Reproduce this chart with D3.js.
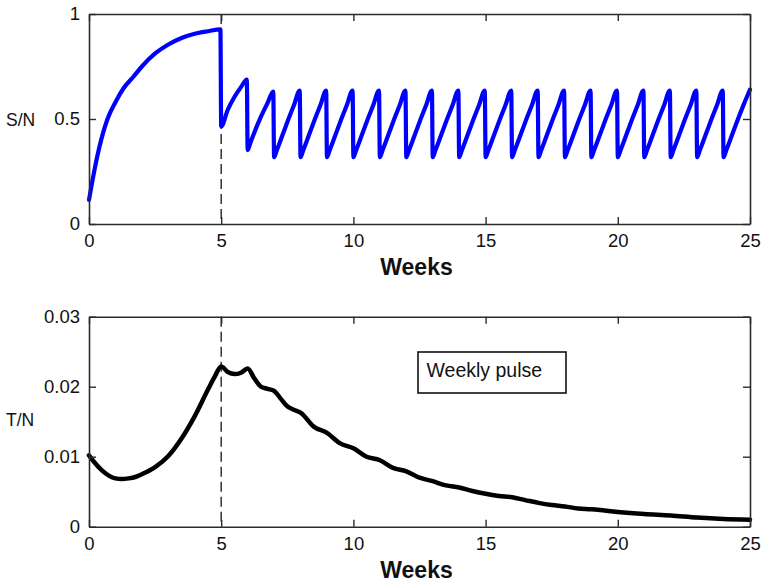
<!DOCTYPE html>
<html>
<head>
<meta charset="utf-8">
<script src="https://cdn.jsdelivr.net/npm/d3@7"></script>
<style>
  html, body { margin: 0; padding: 0; background: #fff; }
  svg { display: block; font-family: "Liberation Sans", Arial, sans-serif; }
</style>
</head>
<body>
<svg id="chart" width="761" height="583"></svg>
<script>
// ---- data ----
const xTicks = [0, 5, 10, 15, 20, 25];
const xTickLabels = ["0", "5", "10", "15", "20", "25"];
const sTicks = [0, 0.5, 1];
const sTickLabels = ["0", "0.5", "1"];
const tTicks = [0, 0.01, 0.02, 0.03];
const tTickLabels = ["0", "0.01", "0.02", "0.03"];
const pulseStart = 5;
const xLabel = "Weeks";
const sLabel = "S/N";
const tLabel = "T/N";
const legendText = "Weekly pulse";

// S/N (top panel)
const sWeeks = [
  0, 0.15, 0.4, 0.7, 1, 1.3, 1.67, 2, 2.5, 3, 3.5, 4, 4.5, 4.97, 5,
  5.25, 5.5, 5.75, 5.97,
  6, 6.1, 6.25, 6.5, 6.75, 6.97,
  7, 7.1, 7.25, 7.5, 7.75, 7.97,
  8, 8.1, 8.25, 8.5, 8.75, 8.97,
  9, 9.1, 9.25, 9.5, 9.75, 9.97,
  10, 10.1, 10.25, 10.5, 10.75, 10.97,
  11, 11.1, 11.25, 11.5, 11.75, 11.97,
  12, 12.1, 12.25, 12.5, 12.75, 12.97,
  13, 13.1, 13.25, 13.5, 13.75, 13.97,
  14, 14.1, 14.25, 14.5, 14.75, 14.97,
  15, 15.1, 15.25, 15.5, 15.75, 15.97,
  16, 16.1, 16.25, 16.5, 16.75, 16.97,
  17, 17.1, 17.25, 17.5, 17.75, 17.97,
  18, 18.1, 18.25, 18.5, 18.75, 18.97,
  19, 19.1, 19.25, 19.5, 19.75, 19.97,
  20, 20.1, 20.25, 20.5, 20.75, 20.97,
  21, 21.1, 21.25, 21.5, 21.75, 21.97,
  22, 22.1, 22.25, 22.5, 22.75, 22.97,
  23, 23.1, 23.25, 23.5, 23.75, 23.97,
  24, 24.1, 24.25, 24.5, 24.75, 25
];
const sValues = [
  0.115, 0.22, 0.37, 0.50, 0.58, 0.645, 0.70, 0.75, 0.812, 0.855, 0.886, 0.906, 0.918, 0.927, 0.465,
  0.545, 0.605, 0.652, 0.688,
  0.352, 0.385, 0.435, 0.51, 0.575, 0.63,   // week 6
  0.318, 0.35, 0.40, 0.485, 0.565, 0.635,   // week 7
  0.318, 0.35, 0.40, 0.485, 0.565, 0.635,   // week 8
  0.318, 0.35, 0.40, 0.485, 0.565, 0.635,   // week 9
  0.318, 0.35, 0.40, 0.485, 0.565, 0.635,   // week 10
  0.318, 0.35, 0.40, 0.485, 0.565, 0.635,   // week 11
  0.318, 0.35, 0.40, 0.485, 0.565, 0.635,   // week 12
  0.318, 0.35, 0.40, 0.485, 0.565, 0.635,   // week 13
  0.318, 0.35, 0.40, 0.485, 0.565, 0.635,   // week 14
  0.318, 0.35, 0.40, 0.485, 0.565, 0.635,   // week 15
  0.318, 0.35, 0.40, 0.485, 0.565, 0.635,   // week 16
  0.318, 0.35, 0.40, 0.485, 0.565, 0.635,   // week 17
  0.318, 0.35, 0.40, 0.485, 0.565, 0.635,   // week 18
  0.318, 0.35, 0.40, 0.485, 0.565, 0.635,   // week 19
  0.318, 0.35, 0.40, 0.485, 0.565, 0.635,   // week 20
  0.318, 0.35, 0.40, 0.485, 0.565, 0.635,   // week 21
  0.318, 0.35, 0.40, 0.485, 0.565, 0.635,   // week 22
  0.318, 0.35, 0.40, 0.485, 0.565, 0.635,   // week 23
  0.318, 0.35, 0.40, 0.485, 0.565, 0.64     // week 24
];

// T/N (bottom panel)
const tWeeks = [
  0, 0.25, 0.5, 0.75, 1, 1.25, 1.5, 1.75, 2, 2.5, 3, 3.5, 4, 4.5, 4.75, 5,
  5.25, 5.5, 5.75, 6, 6.25, 6.5, 6.75, 7, 7.25, 7.5, 7.75, 8, 8.5, 9, 9.5, 10,
  10.5, 11, 11.5, 12, 12.5, 13, 13.5, 14, 14.5, 15, 15.5, 16, 16.5, 17, 17.5,
  18, 18.5, 19, 19.5, 20, 21, 22, 23, 24, 25
];
const tValues = [
  0.0102, 0.0090, 0.0080, 0.0073, 0.0069, 0.0068, 0.0069, 0.0071, 0.0075, 0.0085, 0.0101, 0.0126, 0.0158, 0.0196, 0.0214, 0.0229,
  0.0221, 0.0218, 0.0220, 0.0226, 0.0212, 0.0200, 0.0197, 0.0194, 0.0183, 0.0172, 0.0167, 0.0163, 0.0143, 0.0134, 0.0119, 0.0112,
  0.0100, 0.0095, 0.0084, 0.0079, 0.0070, 0.0065, 0.0059, 0.0056, 0.0051, 0.0047, 0.0044, 0.0042, 0.0038, 0.0034, 0.0031,
  0.0029, 0.0026, 0.0025, 0.0023, 0.0021, 0.0018, 0.0016, 0.0013, 0.0011, 0.0010
];

// ---- drawing ----
const svg = d3.select("#chart");
svg.append("rect").attr("width", 761).attr("height", 583).attr("fill", "#fff");

const left = 89, right = 750;
const x = d3.scaleLinear().domain([0, 25]).range([left, right]);

function panel(opts) {
  const { top, bottom, y, ticks, tickLabels, ylab, ylabY, weeks, values, color, width, xlabBaseline } = opts;
  const g = svg.append("g");
  const frame = "#2b2b2b";
  const tickLen = 7;

  const line = d3.line().curve(d3.curveMonotoneX).x(d => x(d[0])).y(d => y(d[1]));
  const pts = weeks.map((w, i) => [w, values[i]]);

  // dashed pulse marker
  g.append("line")
    .attr("x1", x(pulseStart)).attr("x2", x(pulseStart))
    .attr("y1", top).attr("y2", bottom)
    .attr("stroke", "#333").attr("stroke-width", 1.5)
    .attr("stroke-dasharray", "10,5");

  g.append("path").datum(pts)
    .attr("d", line)
    .attr("fill", "none")
    .attr("stroke", color)
    .attr("stroke-width", width)
    .attr("stroke-linejoin", "round")
    .attr("stroke-linecap", "round");

  // axes (box with inward ticks on all sides)
  const axB = d3.axisBottom(x).tickValues(xTicks).tickFormat((d, i) => xTickLabels[i]).tickSizeInner(-tickLen).tickSizeOuter(0).tickPadding(10);
  const axT = d3.axisTop(x).tickValues(xTicks).tickFormat("").tickSizeInner(-tickLen).tickSizeOuter(0);
  const axL = d3.axisLeft(y).tickValues(ticks).tickFormat((d, i) => tickLabels[i]).tickSizeInner(-tickLen).tickSizeOuter(0).tickPadding(9);
  const axR = d3.axisRight(y).tickValues(ticks).tickFormat("").tickSizeInner(-tickLen).tickSizeOuter(0);

  const style = sel => {
    sel.selectAll("path").attr("stroke", frame).attr("stroke-width", 1.6);
    sel.selectAll("line").attr("stroke", frame).attr("stroke-width", 1.4);
    sel.selectAll("text").attr("fill", "#111").attr("font-size", 18.5).attr("font-family", "'Liberation Sans', Arial, sans-serif");
  };
  g.append("g").attr("transform", `translate(0,${bottom})`).call(axB).call(style);
  g.append("g").attr("transform", `translate(0,${top})`).call(axT).call(style);
  g.append("g").attr("transform", `translate(${left},0)`).call(axL).call(style);
  g.append("g").attr("transform", `translate(${right},0)`).call(axR).call(style);

  // labels
  g.append("text").attr("x", 6).attr("y", ylabY).attr("dy", "0.35em")
    .attr("font-size", 17.5).attr("fill", "#111").text(ylab);
  g.append("text").attr("x", x(12.5) - 3).attr("y", xlabBaseline)
    .attr("text-anchor", "middle").attr("font-size", 23).attr("font-weight", "bold")
    .attr("fill", "#111").text(xLabel);
  return g;
}

const yS = d3.scaleLinear().domain([0, 1]).range([224, 14]);
panel({ top: 14, bottom: 224, y: yS, ticks: sTicks, tickLabels: sTickLabels,
  ylab: sLabel, ylabY: 120, weeks: sWeeks, values: sValues, color: "#0000ff", width: 4.2, xlabBaseline: 275 });

const yT = d3.scaleLinear().domain([0, 0.03]).range([526.7, 316.7]);
const gT = panel({ top: 316.7, bottom: 526.7, y: yT, ticks: tTicks, tickLabels: tTickLabels,
  ylab: tLabel, ylabY: 420, weeks: tWeeks, values: tValues, color: "#000", width: 4.5, xlabBaseline: 578 });

// legend box
gT.append("rect").attr("x", 418).attr("y", 352).attr("width", 148).attr("height", 41)
  .attr("fill", "#fff").attr("stroke", "#111").attr("stroke-width", 1.6);
gT.append("text").attr("x", 426.5).attr("y", 377).attr("font-size", 19.5).attr("fill", "#111").text(legendText);
</script>
</body>
</html>
